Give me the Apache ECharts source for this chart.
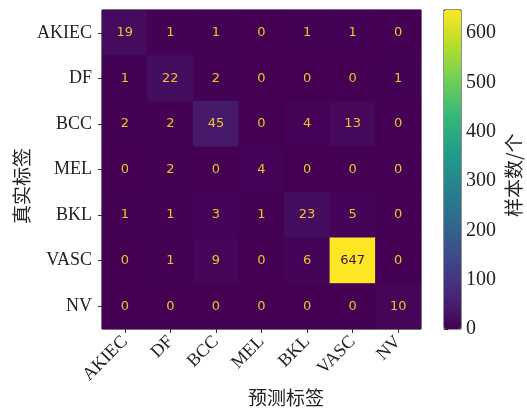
<!DOCTYPE html>
<html><head><meta charset="utf-8">
<script src="https://cdn.jsdelivr.net/npm/echarts@6/dist/echarts.min.js"></script>
<style>html,body{margin:0;padding:0;background:#fff}#c{width:527px;height:410px}</style>
</head><body><div id="c"></div>
<script>
const classes = ['AKIEC','DF','BCC','MEL','BKL','VASC','NV'];
const AKIEC = [19,1,1,0,1,1,0];
const DF    = [1,22,2,0,0,0,1];
const BCC   = [2,2,45,0,4,13,0];
const MEL   = [0,2,0,4,0,0,0];
const BKL   = [1,1,3,1,23,5,0];
const VASC  = [0,1,9,0,6,647,0];
const NV    = [0,0,0,0,0,0,10];
const rows = [AKIEC, DF, BCC, MEL, BKL, VASC, NV];
const cbarTicks = [0,100,200,300,400,500,600];
const xTitle = '预测标签', yTitle = '真实标签', cTitle = '样本数/个';

const vmax = Math.max(...rows.flat());
const viridis = ['#440154','#482878','#3e4989','#31688e','#26828e','#1f9e89','#35b779','#6ece58','#b5de2b','#fde725'];
const data = [];
rows.forEach((r, i) => r.forEach((v, j) => {
  data.push({value: [j, i, v], label: {color: v > vmax / 2 ? '#3b0f54' : '#f2c12c'}});
}));
const serif = 'Liberation Serif';
const chart = echarts.init(document.getElementById('c'));
chart.setOption({
  animation: false,
  grid: [
    {left: 102, top: 10, width: 319, height: 319, show: true, borderColor: '#222', borderWidth: 1, backgroundColor: '#44065a'},
    {left: 444, top: 10, width: 17, height: 319, show: true, borderColor: '#222', borderWidth: 1}
  ],
  xAxis: [
    {type: 'category', data: classes, gridIndex: 0,
     axisLine: {show: false}, axisTick: {show: true, alignWithLabel: true, length: 4, lineStyle: {color: '#333'}},
     axisLabel: {rotate: 45, fontFamily: serif, fontSize: 18, color: '#222', margin: 10}, splitLine: {show: false}},
    {type: 'value', gridIndex: 1, show: false, min: 0, max: 1}
  ],
  yAxis: [
    {type: 'category', data: classes, gridIndex: 0, inverse: true,
     axisLine: {show: false}, axisTick: {show: true, alignWithLabel: true, length: 4, lineStyle: {color: '#333'}},
     axisLabel: {fontFamily: serif, fontSize: 18, color: '#222', margin: 10}, splitLine: {show: false}},
    {type: 'value', gridIndex: 1, position: 'right', min: 0, max: vmax, interval: 100,
     axisLine: {show: false}, axisTick: {show: true, length: 4, lineStyle: {color: '#333'}},
     axisLabel: {fontFamily: serif, fontSize: 20, color: '#222', margin: 5,
       formatter: v => cbarTicks.includes(v) ? String(v) : ''},
     splitLine: {show: false}}
  ],
  visualMap: {
    type: 'continuous', min: 0, max: vmax, seriesIndex: 0, show: true,
    left: 444, top: 10, itemWidth: 17, itemHeight: 319, padding: 0,
    calculable: false, text: null, showLabel: false, hoverLink: false,
    inRange: {color: viridis}
  },
  series: [{
    type: 'heatmap', xAxisIndex: 0, yAxisIndex: 0, data: data,
    label: {show: true, fontFamily: 'DejaVu Sans', fontSize: 13},
    itemStyle: {borderWidth: 0}
  }],
  graphic: [
    {type: 'text', left: 248, top: 388, style: {text: xTitle, fontFamily: 'Noto Sans CJK SC', fontSize: 19, fill: '#222'}},
    {type: 'text', x: 12, y: 224, rotation: Math.PI / 2, style: {text: yTitle, fontFamily: 'Noto Sans CJK SC', fontSize: 19, fill: '#222'}},
    {type: 'text', x: 504, y: 217, rotation: Math.PI / 2, style: {text: cTitle, fontFamily: 'Noto Sans CJK SC', fontSize: 19, fill: '#222'}}
  ]
});
</script></body></html>
